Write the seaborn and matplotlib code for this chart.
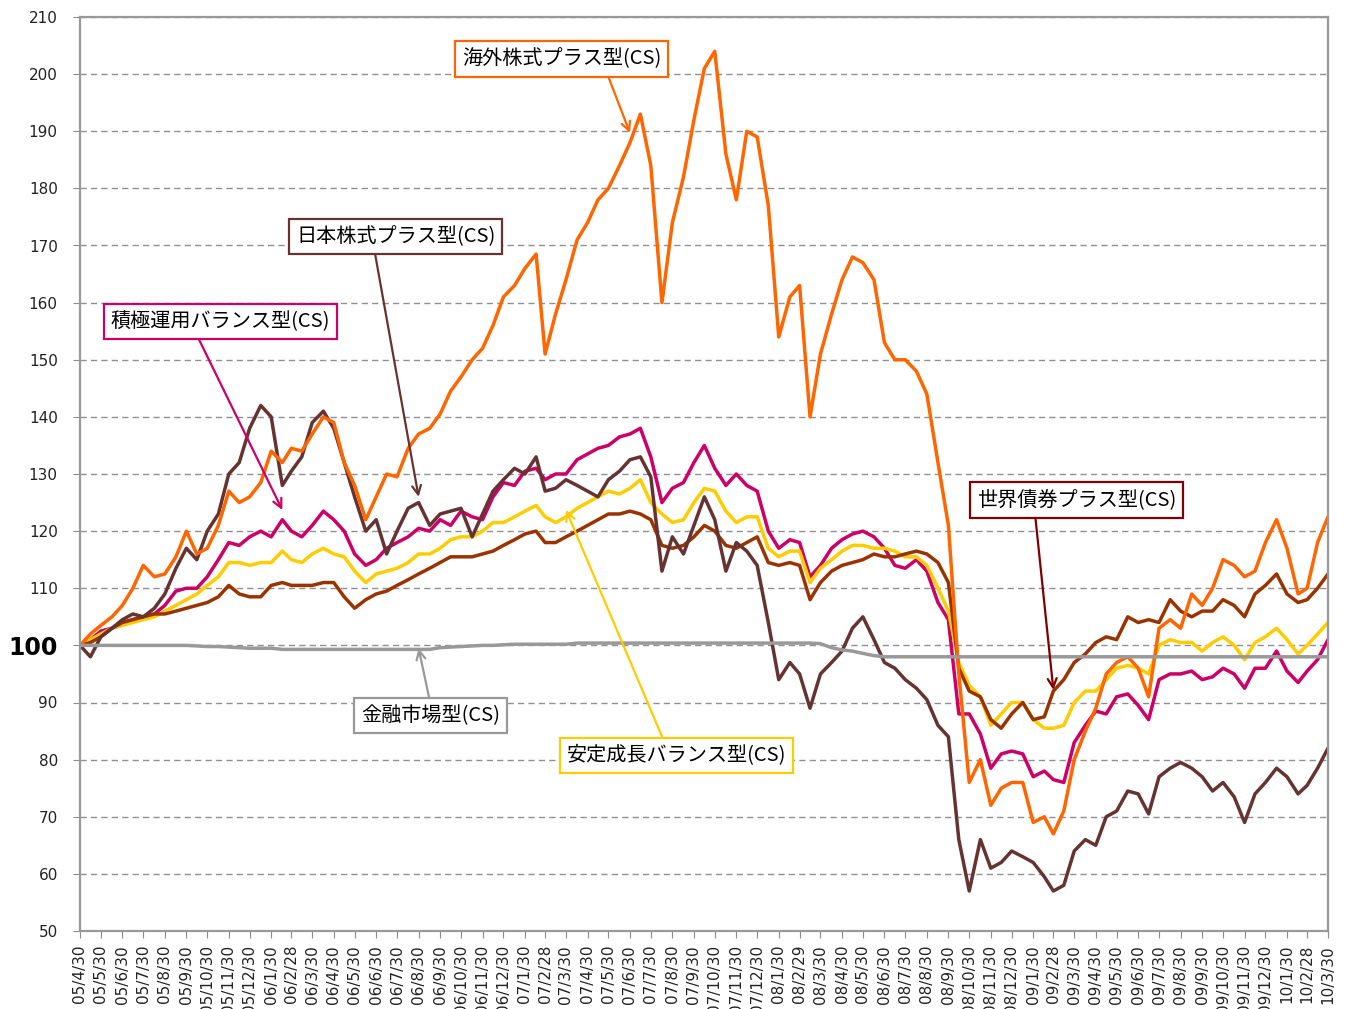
import calendar
import pandas as pd
import seaborn as sns
import matplotlib.pyplot as plt
import matplotlib.dates as mdates

# sample dates: 05/4/30, then the 15th and month end of every month up to 10/3/30
dates = [pd.Timestamp(2005, 4, 30)]
for i in range(1, 60):
    yr, mo = 2005 + (3 + i) // 12, (3 + i) % 12 + 1
    dates.append(pd.Timestamp(yr, mo, 15))
    dates.append(pd.Timestamp(yr, mo, min(30, calendar.monthrange(yr, mo)[1])))

kaigai = [100, 102, 103.5, 105, 107, 110, 114, 112, 112.5, 115.5,
          120, 116, 117, 121, 127, 125, 126, 128.5, 134, 132,
          134.5, 134, 137, 140, 139, 132, 128, 122, 126, 130,
          129.5, 134.5, 137, 138, 140.5, 144.5, 147, 150, 152, 156,
          161, 163, 166, 168.5, 151, 158, 164, 171, 174, 178,
          180, 184, 188, 193, 184, 160, 174, 182, 192, 201,
          204, 186, 178, 190, 189, 177, 154, 161, 163, 140,
          151, 158, 164, 168, 167, 164, 153, 150, 150, 148,
          144, 132, 121, 95, 76, 80, 72, 75, 76, 76,
          69, 70, 67, 71, 80, 85, 89, 95, 97, 98,
          96, 91, 103, 104.5, 103, 109, 107, 110, 115, 114,
          112, 113, 118, 122, 117, 109, 110, 118, 122.5]

nihon = [100, 98, 101.5, 103, 104.5, 105.5, 105, 106.5, 109, 113.5,
         117, 115, 120, 123, 130, 132, 138, 142, 140, 128,
         130.5, 133, 139, 141, 138, 132, 126, 120, 122, 116,
         120, 124, 125, 121, 123, 123.5, 124, 119, 123, 127,
         129, 131, 130, 133, 127, 127.5, 129, 128, 127, 126,
         129, 130.5, 132.5, 133, 129.5, 113, 119, 116, 121, 126,
         122, 113, 118, 116.5, 114, 104, 94, 97, 95, 89,
         95, 97, 99, 103, 105, 101, 97, 96, 94, 92.5,
         90.5, 86, 84, 66, 57, 66, 61, 62, 64, 63,
         62, 59.5, 57, 58, 64, 66, 65, 70, 71, 74.5,
         74, 70.5, 77, 78.5, 79.5, 78.5, 77, 74.5, 76, 73.5,
         69, 74, 76, 78.5, 77, 74, 75.5, 78.5, 82]

sekkyoku = [100, 101, 102.5, 103, 104, 104.5, 105, 105.5, 107, 109.5,
            110, 110, 112, 115, 118, 117.5, 119, 120, 119, 122,
            120, 119, 121, 123.5, 122, 120, 116, 114, 115, 117,
            118, 119, 120.5, 120, 122, 121, 123.5, 122.5, 122, 126,
            128.5, 128, 130.5, 131, 129, 130, 130, 132.5, 133.5, 134.5,
            135, 136.5, 137, 138, 133, 125, 127.5, 128.5, 132, 135,
            131, 128, 130, 128, 127, 120, 117, 118.5, 118, 112,
            114, 117, 118.5, 119.5, 120, 119, 117, 114, 113.5, 115,
            113, 107.5, 104.5, 88, 88, 84.5, 78.5, 81, 81.5, 81,
            77, 78, 76.5, 76, 83, 86, 88.5, 88, 91, 91.5,
            89.5, 87, 94, 95, 95, 95.5, 94, 94.5, 96, 95,
            92.5, 96, 96, 99, 95.5, 93.5, 95.5, 97.5, 101]

antei = [100, 101, 102, 103, 103.5, 104, 104.5, 105, 106, 107,
         108, 109, 110.5, 112, 114.5, 114.5, 114, 114.5, 114.5, 116.5,
         115, 114.5, 116, 117, 116, 115.5, 113, 111, 112.5, 113,
         113.5, 114.5, 116, 116, 117, 118.5, 119, 119, 120, 121.5,
         121.5, 122.5, 123.5, 124.5, 122.5, 121.5, 122.5, 124, 125, 126,
         127, 126.5, 127.5, 129, 125, 123, 121.5, 122, 125, 127.5,
         127, 123.5, 121.5, 122.5, 122.5, 117, 115.5, 116.5, 116.5, 111,
         113.5, 115, 116.5, 117.5, 117.5, 117, 117, 116.5, 115.5, 115.5,
         114, 110, 106, 97, 93, 91, 86, 88, 90, 90,
         87, 85.5, 85.5, 86, 90, 92, 92, 94, 96, 96.5,
         96, 95, 100, 101, 100.5, 100.5, 99, 100.5, 101.5, 100,
         97.5, 100.5, 101.5, 103, 101, 98.5, 100, 102, 104]

sekai = [100, 100.5, 101.5, 103, 104, 104.5, 105, 105.5, 105.5, 106,
         106.5, 107, 107.5, 108.5, 110.5, 109, 108.5, 108.5, 110.5, 111,
         110.5, 110.5, 110.5, 111, 111, 108.5, 106.5, 108, 109, 109.5,
         110.5, 111.5, 112.5, 113.5, 114.5, 115.5, 115.5, 115.5, 116, 116.5,
         117.5, 118.5, 119.5, 120, 118, 118, 119, 120, 121, 122,
         123, 123, 123.5, 123, 122, 117.5, 117, 117.5, 119, 121,
         120, 117.5, 117, 118, 119, 114.5, 114, 114.5, 114, 108,
         111, 113, 114, 114.5, 115, 116, 115.5, 115.5, 116, 116.5,
         116, 114.5, 111, 96, 92, 91, 87, 85.5, 88, 90,
         87, 87.5, 92, 94, 97, 98.5, 100.5, 101.5, 101, 105,
         104, 104.5, 104, 108, 106, 105, 106, 106, 108, 107,
         105, 109, 110.5, 112.5, 109, 107.5, 108, 110, 112.5]

kinyu = [100, 100, 100, 100, 100, 100, 100, 100, 100, 100,
         100, 99.9, 99.8, 99.8, 99.7, 99.6, 99.5, 99.5, 99.5, 99.3,
         99.3, 99.3, 99.3, 99.3, 99.3, 99.3, 99.3, 99.3, 99.3, 99.3,
         99.3, 99.3, 99.3, 99.3, 99.6, 99.7, 99.8, 99.9, 100, 100,
         100.1, 100.2, 100.2, 100.2, 100.2, 100.2, 100.2, 100.4, 100.4, 100.4,
         100.4, 100.4, 100.4, 100.4, 100.4, 100.4, 100.4, 100.4, 100.4, 100.4,
         100.4, 100.4, 100.4, 100.4, 100.4, 100.4, 100.4, 100.4, 100.4, 100.4,
         100.3, 99.6, 99.2, 99.0, 98.6, 98.2, 98.0, 98.0, 98.0, 98.0,
         98.0, 98.0, 98.0, 98.0, 98.0, 98.0, 98.0, 98.0, 98.0, 98.0,
         98.0, 98.0, 98.0, 98.0, 98.0, 98.0, 98.0, 98.0, 98.0, 98.0,
         98.0, 98.0, 98.0, 98.0, 98.0, 98.0, 98.0, 98.0, 98.0, 98.0,
         98.0, 98.0, 98.0, 98.0, 98.0, 98.0, 98.0, 98.0, 98.0]

names = ['積極運用バランス型(CS)', '安定成長バランス型(CS)', '世界債券プラス型(CS)',
         '日本株式プラス型(CS)', '海外株式プラス型(CS)', '金融市場型(CS)']
series = [sekkyoku, antei, sekai, nihon, kaigai, kinyu]
colors = ['#CC0066', '#FFCC00', '#993300', '#663333', '#FF6600', '#999999']
box_colors = ['#CC0066', '#FFCC00', '#800000', '#663333', '#FF6600', '#999999']

# label box centre (axes fraction), arrow start on box (relpos), arrow tip (date index, value)
label_pos = [(0.1126, 0.667), (0.478, 0.192), (0.7985, 0.4716),
             (0.253, 0.760), (0.386, 0.954), (0.281, 0.2358)]
arrow_rel = [(0.385, 0), (0.45, 1), (0.29, 0), (0.39, 0), (0.72, 0), (0.5, 1)]
arrow_tip = [(19, 123.7), (46, 123.7), (92, 92.2), (32, 126.0), (52, 189.7), (32, 99.5)]

df = pd.concat([pd.DataFrame({'date': dates, 'value': s, 'fund': n})
                for n, s in zip(names, series)])

sns.set_style('white')
plt.rcParams['font.family'] = ['DejaVu Sans', 'Noto Sans CJK JP']

fig = plt.figure(figsize=(13.46, 10.09), dpi=100)
ax = fig.add_axes([80 / 1346, 1 - 931 / 1009, 1248 / 1346, 914 / 1009])

sns.lineplot(data=df, x='date', y='value', hue='fund', hue_order=names,
             palette=dict(zip(names, colors)), estimator=None, sort=False,
             linewidth=2.5, legend=False, ax=ax)

ax.set_xlim(dates[0], dates[-1])
ax.set_ylim(50, 210)
yt = list(range(50, 211, 10))
ax.set_yticks(yt, labels=[str(v) for v in yt])

month_ends = dates[0::2]
ax.set_xticks(month_ends,
              labels=[f"{d.year % 100:02d}/{d.month}/{d.day}" for d in month_ends],
              rotation=90)
ax.tick_params(axis='y', labelsize=11, length=5, pad=11, color='#8c8c8c',
               labelcolor='#222222', direction='out', left=True)
ax.tick_params(axis='x', labelsize=11, length=5, pad=5, color='#8c8c8c',
               labelcolor='#222222', direction='out', bottom=True)
for lbl in ax.get_xticklabels():
    lbl.set_va('top')
# the base level 100 is emphasised on the axis
for lbl in ax.get_yticklabels():
    if lbl.get_text() == '100':
        lbl.set_fontsize(17)
        lbl.set_fontweight('bold')
        lbl.set_color('black')
        lbl.set_y(101)

ax.yaxis.grid(True, linestyle=(0, (4.5, 3)), color='#909090', linewidth=1.0)
ax.set_axisbelow(True)
for sp in ax.spines.values():
    sp.set_color('#999999')
    sp.set_linewidth(1.6)
ax.set_xlabel('')
ax.set_ylabel('')

for n, bc, pos, rel, tip in zip(names, box_colors, label_pos, arrow_rel, arrow_tip):
    ax.annotate(n, xy=(mdates.date2num(dates[tip[0]]), tip[1]), xycoords='data',
                xytext=pos, textcoords='axes fraction', ha='center', va='center',
                fontsize=14.5, family=['Noto Sans CJK JP', 'DejaVu Sans'], color='black',
                bbox=dict(boxstyle='square,pad=0.35', fc='white', ec=bc, lw=1.6),
                arrowprops=dict(arrowstyle='->', color=bc, lw=1.6, relpos=rel,
                                shrinkA=0, shrinkB=0, mutation_scale=16),
                zorder=10)

fig.savefig('out.png', dpi=100)
